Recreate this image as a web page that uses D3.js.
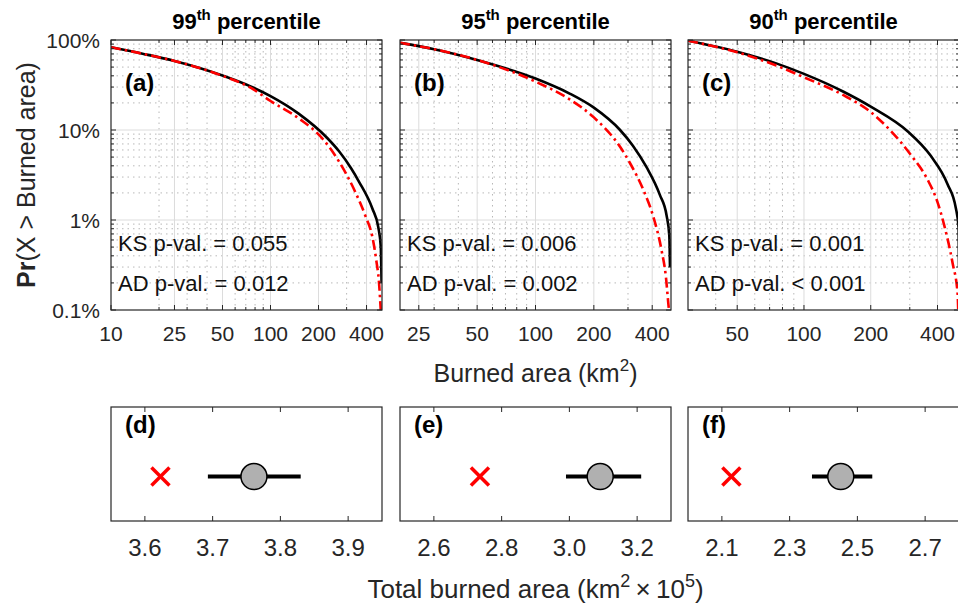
<!DOCTYPE html>
<html><head><meta charset="utf-8">
<script src="https://cdn.jsdelivr.net/npm/d3@7"></script>
<style>
body{margin:0;background:#fff}
svg{display:block;font-family:"Liberation Sans",Arial,Helvetica,sans-serif}
</style>
</head><body><svg id="c" width="958" height="606"></svg>
<script>
// ---------------- DATA ----------------
const percentiles = ["99", "95", "90"];
const panelLabelsTop = ["(a)", "(b)", "(c)"];
const panelLabelsBottom = ["(d)", "(e)", "(f)"];
const xDomainsTop = [[10, 500], [20, 500], [30, 500]];
const xTicksTop = [[10, 25, 50, 100, 200, 400], [25, 50, 100, 200, 400], [50, 100, 200, 400]];
const yTicks = [0.001, 0.01, 0.1, 1];
const yTickLabels = ["0.1%", "1%", "10%", "100%"];

// exceedance probability curves: [burned area km2, Pr(X > area)]
const observedA = [[10,0.83],[16,0.70],[25,0.585],[50,0.403],[75,0.305],[100,0.238],[150,0.152],[226,0.082],[269,0.058],[320,0.0376],[359,0.0266],[435,0.0134],[474,0.0083],[491,0.0051],[497,0.002]];
const modelA    = [[10,0.83],[16,0.70],[25,0.585],[50,0.40],[75,0.295],[100,0.21],[150,0.135],[216,0.077],[269,0.0445],[343,0.0198],[395,0.0109],[435,0.0065],[460,0.0036],[479,0.002],[491,0.001]];
const observedB = [[20,0.93],[30,0.79],[50,0.60],[100,0.373],[150,0.254],[200,0.177],[273,0.10],[318,0.067],[374,0.0386],[438,0.019],[475,0.0111],[490,0.0067],[494,0.003]];
const modelB    = [[20,0.93],[30,0.79],[50,0.60],[100,0.345],[150,0.219],[200,0.138],[273,0.065],[307,0.043],[360,0.0216],[405,0.0109],[447,0.0046],[471,0.0023],[484,0.0012],[488,0.001]];
const observedC = [[30,0.98],[50,0.74],[75,0.55],[100,0.42],[150,0.268],[200,0.182],[293,0.097],[373,0.0516],[444,0.025],[484,0.0135],[498,0.0082],[500,0.003]];
const modelC    = [[30,0.98],[50,0.73],[75,0.52],[100,0.385],[150,0.245],[200,0.158],[246,0.098],[303,0.053],[361,0.028],[400,0.0158],[429,0.0087],[468,0.0033],[493,0.0015],[496,0.001]];
const observedCurves = [observedA, observedB, observedC];
const modelCurves = [modelA, modelB, modelC];

const ksPvals = ["KS p-val. = 0.055", "KS p-val. = 0.006", "KS p-val. = 0.001"];
const adPvals = ["AD p-val. = 0.012", "AD p-val. = 0.002", "AD p-val. < 0.001"];

// totals (km2 x 10^5)
const xDomainsBottom = [[3.55, 3.95], [2.5, 3.3], [2.0, 2.8]];
const xTicksBottom = [[3.6, 3.7, 3.8, 3.9], [2.6, 2.8, 3.0, 3.2], [2.1, 2.3, 2.5, 2.7]];
const totalObserved = [3.623, 2.736, 2.128];
const totalSimMean  = [3.761, 3.091, 2.451];
const totalSimLow   = [3.693, 2.990, 2.366];
const totalSimHigh  = [3.830, 3.212, 2.544];
const markerLevel = 0.39;

// ---------------- LAYOUT ----------------
const svg = d3.select("#c");
const lefts = [111, 400, 688], panelW = 271;
const topY0 = 40, topY1 = 310;
const botY0 = 407, botY1 = 521;
const axisColor = "#262626";
const defs = svg.append("defs");

const y = d3.scaleLog().domain([0.001, 1]).range([topY1, topY0]);

function minorsLog(dom) {
  const out = [];
  for (let k = -4; k <= 3; k++) for (let m = 2; m <= 9; m++) {
    const v = m * Math.pow(10, k);
    if (v > dom[0] * 1.0001 && v < dom[1] * 0.9999) out.push(v);
  }
  return out;
}

percentiles.forEach((pc, i) => {
  const L = lefts[i], R = L + panelW;
  const x = d3.scaleLog().domain(xDomainsTop[i]).range([L, R]);
  const g = svg.append("g");

  defs.append("clipPath").attr("id", "clip" + i)
    .append("rect").attr("x", L).attr("y", topY0).attr("width", panelW).attr("height", topY1 - topY0);

  // minor grid (dotted)
  const mx = minorsLog(xDomainsTop[i]).filter(v => !xTicksTop[i].includes(v));
  const my = minorsLog([0.001, 1]);
  g.selectAll(".mgx").data(mx).join("line")
    .attr("x1", d => x(d)).attr("x2", d => x(d)).attr("y1", topY0).attr("y2", topY1)
    .attr("stroke", "#b8b8b8").attr("stroke-width", 1).attr("stroke-dasharray", "1.5,4");
  g.selectAll(".mgy").data(my).join("line")
    .attr("x1", L).attr("x2", R).attr("y1", d => y(d)).attr("y2", d => y(d))
    .attr("stroke", "#b8b8b8").attr("stroke-width", 1).attr("stroke-dasharray", "1.5,4");
  // major grid
  g.selectAll(".Mgx").data(xTicksTop[i].filter(v => x(v) > L + 1 && x(v) < R - 1)).join("line")
    .attr("x1", d => x(d)).attr("x2", d => x(d)).attr("y1", topY0).attr("y2", topY1)
    .attr("stroke", "#dcdcdc").attr("stroke-width", 1);
  g.selectAll(".Mgy").data(yTicks.filter(v => y(v) > topY0 + 1 && y(v) < topY1 - 1)).join("line")
    .attr("x1", L).attr("x2", R).attr("y1", d => y(d)).attr("y2", d => y(d))
    .attr("stroke", "#dcdcdc").attr("stroke-width", 1);

  // curves
  const line = d3.line().x(d => x(d[0])).y(d => y(d[1])).curve(d3.curveMonotoneX);
  const cg = g.append("g").attr("clip-path", `url(#clip${i})`);
  cg.append("path").datum(observedCurves[i]).attr("d", line)
    .attr("fill", "none").attr("stroke", "#000").attr("stroke-width", 2.6);
  cg.append("path").datum(modelCurves[i]).attr("d", line)
    .attr("fill", "none").attr("stroke", "#ff0000").attr("stroke-width", 2.6)
    .attr("stroke-dasharray", "10,4,2.5,4");

  // box
  g.append("rect").attr("x", L).attr("y", topY0).attr("width", panelW).attr("height", topY1 - topY0)
    .attr("fill", "none").attr("stroke", axisColor).attr("stroke-width", 1.2);

  // ticks
  const tk = g.append("g").attr("stroke", axisColor).attr("stroke-width", 1);
  xTicksTop[i].forEach(v => {
    tk.append("line").attr("x1", x(v)).attr("x2", x(v)).attr("y1", topY1).attr("y2", topY1 - 5);
    tk.append("line").attr("x1", x(v)).attr("x2", x(v)).attr("y1", topY0).attr("y2", topY0 + 5);
  });
  mx.forEach(v => {
    tk.append("line").attr("x1", x(v)).attr("x2", x(v)).attr("y1", topY1).attr("y2", topY1 - 3);
    tk.append("line").attr("x1", x(v)).attr("x2", x(v)).attr("y1", topY0).attr("y2", topY0 + 3);
  });
  yTicks.forEach(v => {
    tk.append("line").attr("x1", L).attr("x2", L + 5).attr("y1", y(v)).attr("y2", y(v));
    tk.append("line").attr("x1", R).attr("x2", R - 5).attr("y1", y(v)).attr("y2", y(v));
  });
  my.forEach(v => {
    tk.append("line").attr("x1", L).attr("x2", L + 3).attr("y1", y(v)).attr("y2", y(v));
    tk.append("line").attr("x1", R).attr("x2", R - 3).attr("y1", y(v)).attr("y2", y(v));
  });

  // tick labels
  g.selectAll(".xl").data(xTicksTop[i]).join("text")
    .attr("x", d => x(d)).attr("y", 341).attr("text-anchor", "middle")
    .attr("font-size", 21).attr("fill", axisColor).text(d => d);
  if (i === 0) {
    g.selectAll(".yl").data(yTicks).join("text")
      .attr("x", L - 11).attr("y", d => y(d) + 7.5).attr("text-anchor", "end")
      .attr("font-size", 21).attr("fill", axisColor).text((d, j) => yTickLabels[j]);
  }

  // title
  const t = g.append("text").attr("x", (L + R) / 2).attr("y", 29).attr("text-anchor", "middle")
    .attr("font-size", 22).attr("font-weight", "bold").attr("fill", "#000");
  t.append("tspan").text(pc);
  t.append("tspan").attr("font-size", 15).attr("dy", -9).text("th");
  t.append("tspan").attr("dy", 9).text(" percentile");

  // panel label
  g.append("text").attr("x", L + 14).attr("y", 91).attr("font-size", 24).attr("font-weight", "bold")
    .attr("fill", "#000").text(panelLabelsTop[i]);

  // p-values
  g.append("text").attr("x", L + 7).attr("y", 251).attr("font-size", 22).attr("fill", "#111").text(ksPvals[i]);
  g.append("text").attr("x", L + 7).attr("y", 291).attr("font-size", 22).attr("fill", "#111").text(adPvals[i]);
});

// y label
const yl = svg.append("text").attr("transform", "translate(35,175) rotate(-90)")
  .attr("text-anchor", "middle").attr("font-size", 25).attr("fill", axisColor);
yl.append("tspan").attr("font-weight", "bold").text("Pr");
yl.append("tspan").text("(X > Burned area)");

// x label top
const xl = svg.append("text").attr("x", 535.5).attr("y", 382).attr("text-anchor", "middle")
  .attr("font-size", 25).attr("fill", axisColor);
xl.append("tspan").text("Burned area (km");
xl.append("tspan").attr("font-size", 17).attr("dy", -11).text("2");
xl.append("tspan").attr("dy", 11).text(")");

// ---------------- BOTTOM PANELS ----------------
const yb = d3.scaleLinear().domain([0, 1]).range([botY1, botY0]);
panelLabelsBottom.forEach((lab, i) => {
  const L = lefts[i], R = L + panelW;
  const x = d3.scaleLinear().domain(xDomainsBottom[i]).range([L, R]);
  const g = svg.append("g");
  g.append("rect").attr("x", L).attr("y", botY0).attr("width", panelW).attr("height", botY1 - botY0)
    .attr("fill", "none").attr("stroke", axisColor).attr("stroke-width", 1.2);
  xTicksBottom[i].forEach(v => {
    g.append("line").attr("x1", x(v)).attr("x2", x(v)).attr("y1", botY1).attr("y2", botY1 - 5)
      .attr("stroke", axisColor);
    g.append("line").attr("x1", x(v)).attr("x2", x(v)).attr("y1", botY0).attr("y2", botY0 + 5)
      .attr("stroke", axisColor);
  });
  g.selectAll(".bl").data(xTicksBottom[i]).join("text")
    .attr("x", d => x(d)).attr("y", 556).attr("text-anchor", "middle")
    .attr("font-size", 24).attr("fill", axisColor).text(d => d3.format(".1f")(d));

  g.append("text").attr("x", L + 14).attr("y", 433).attr("font-size", 24).attr("font-weight", "bold")
    .attr("fill", "#000").text(lab);

  const ym = yb(markerLevel);
  g.append("line").attr("x1", x(totalSimLow[i])).attr("x2", x(totalSimHigh[i]))
    .attr("y1", ym).attr("y2", ym).attr("stroke", "#000").attr("stroke-width", 4);
  g.append("circle").attr("cx", x(totalSimMean[i])).attr("cy", ym).attr("r", 13)
    .attr("fill", "#b0b0b0").attr("stroke", "#000").attr("stroke-width", 1.5);
  const cx = x(totalObserved[i]), s = 9;
  g.append("line").attr("x1", cx - s).attr("x2", cx + s).attr("y1", ym - s).attr("y2", ym + s)
    .attr("stroke", "#ff0000").attr("stroke-width", 3.5);
  g.append("line").attr("x1", cx - s).attr("x2", cx + s).attr("y1", ym + s).attr("y2", ym - s)
    .attr("stroke", "#ff0000").attr("stroke-width", 3.5);
});

const bl = svg.append("text").attr("x", 535.5).attr("y", 598).attr("text-anchor", "middle")
  .attr("font-size", 26).attr("fill", axisColor);
bl.append("tspan").text("Total burned area (km");
bl.append("tspan").attr("font-size", 18).attr("dy", -11).text("2");
bl.append("tspan").attr("dy", 11).text("\u2009\u00d7\u200910");
bl.append("tspan").attr("font-size", 18).attr("dy", -11).text("5");
bl.append("tspan").attr("dy", 11).text(")");
</script>
</body></html>
